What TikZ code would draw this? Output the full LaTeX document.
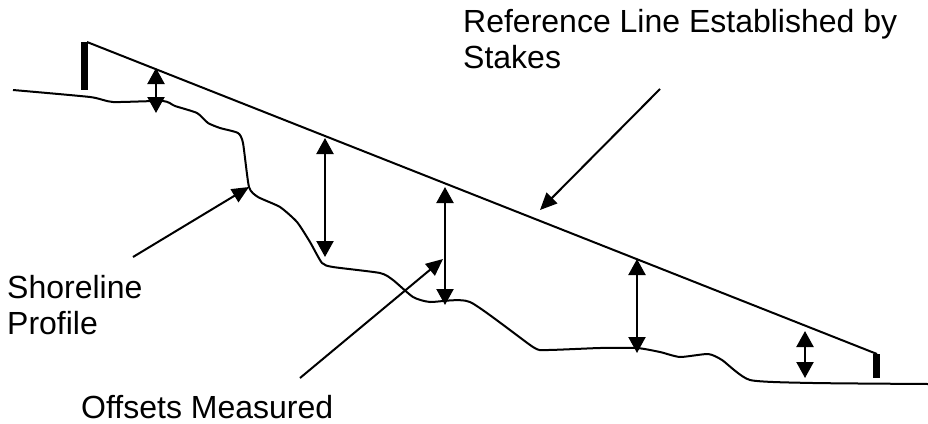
\documentclass[tikz,border=0pt]{standalone}
\usepackage{fontspec}
\setmainfont{Liberation Sans}
\usetikzlibrary{arrows.meta}

\begin{document}
\begin{tikzpicture}[x=1pt,y=-1pt]

%
% Styles
%
\tikzstyle{note} = [font=\fontsize{32}{36}\selectfont,align=left,inner sep=0pt,anchor=base west]
\tikzstyle{stake} = [fill=black]
\tikzstyle{offset} = [{Triangle[length=16pt,width=17pt]}-{Triangle[length=16pt,width=17pt]},line width=2.2pt]
\tikzstyle{pointer} = [-{Triangle[length=17pt,width=15pt]},line width=2pt]

\useasboundingbox (0,0) rectangle (928,423);

% stakes and reference line
\fill[stake] (81,42) rectangle (88,90);
\fill[stake] (873,354) rectangle (880,378);
\coordinate (stakeL) at (87,42);
\coordinate (stakeR) at (877,354);
\draw[line width=2pt] (stakeL) -- (stakeR);

% shoreline profile
\draw[line width=2pt] plot[smooth,tension=0.35] coordinates {
  (13,90) (90,97) (113,102) (163,101) (175,106) (197,113) (208,123)
  (220,128) (238,133) (243,143) (249,187) (258,197) (280,207) (297,222)
  (310,242) (322,263) (333,267) (380,273) (393,280) (413,297) (430,302)
  (470,302) (533,347) (547,350) (600,348) (637,348) (660,352) (680,357)
  (708,354) (722,360) (750,380) (813,383) (928,384)};

% offsets
\coordinate (top1) at (156,68);  \coordinate (bot1) at (156,113);
\coordinate (top2) at (325,138); \coordinate (bot2) at (325,257);
\coordinate (top3) at (445,187); \coordinate (bot3) at (445,305);
\coordinate (top4) at (637,259); \coordinate (bot4) at (637,353);
\coordinate (top5) at (805,331); \coordinate (bot5) at (805,378);

\draw[offset] (top1) -- (bot1);
\draw[offset] (top2) -- (bot2);
\draw[offset] (top3) -- (bot3);
\draw[offset] (top4) -- (bot4);
\draw[offset] (top5) -- (bot5);

% labels
\node[note] (reftext)   at (463,68)  {Reference Line Established by\\Stakes};
\node[note] (shoretext) at (7,334)   {Shoreline\\Profile};
\node[note] (offtext)   at (81,418)  {Offsets Measured};

\coordinate (refend)   at (660,89);  \coordinate (reftip)   at (540,210);
\coordinate (shoreend) at (133,257); \coordinate (shoretip) at (249,187);
\coordinate (offend)   at (300,378); \coordinate (offtip)   at (443,259);

\draw[pointer] (refend)   -- (reftip);
\draw[pointer] (shoreend) -- (shoretip);
\draw[pointer] (offend)   -- (offtip);

\end{tikzpicture}
\end{document}
